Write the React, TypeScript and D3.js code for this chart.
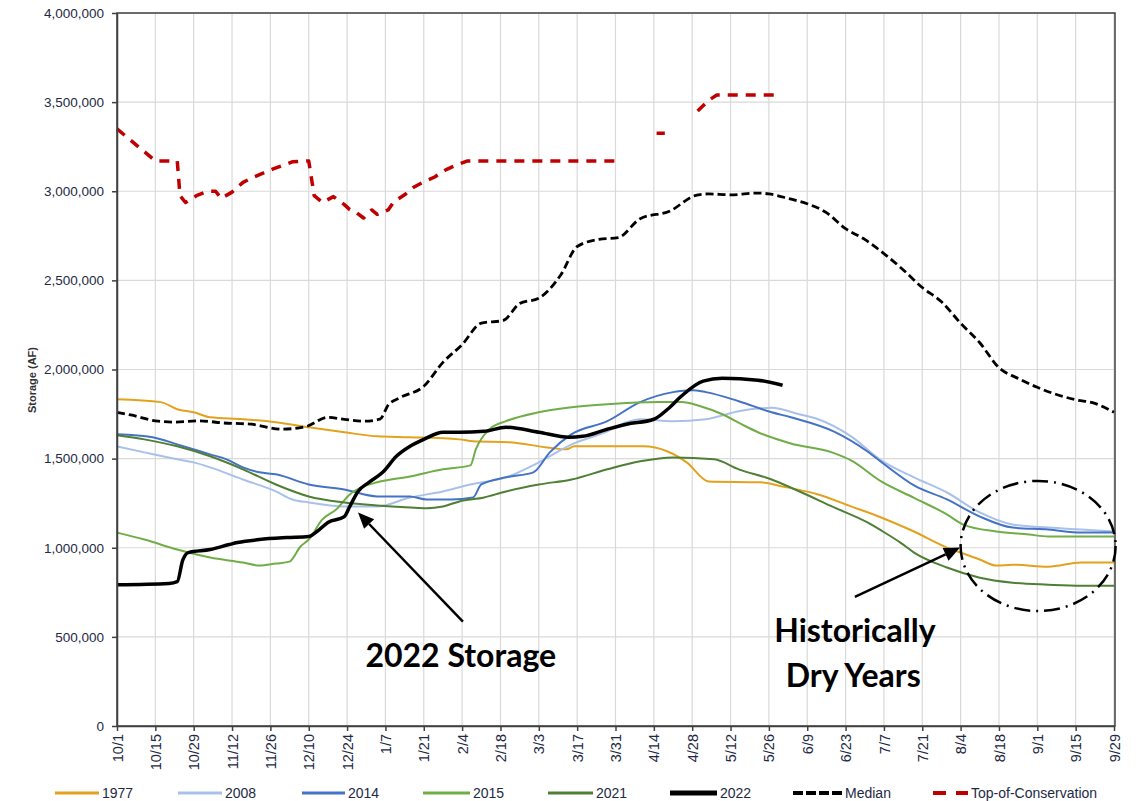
import React, { useEffect, useRef } from 'react';
import * as d3 from 'd3';

// x = days since 10/1 (leap-year water year, ticks every 14 days), y = storage in AF
const tickLabels = ['10/1', '10/15', '10/29', '11/12', '11/26', '12/10', '12/24', '1/7', '1/21', '2/4', '2/18', '3/3', '3/17', '3/31',
  '4/14', '4/28', '5/12', '5/26', '6/9', '6/23', '7/7', '7/21', '8/4', '8/18', '9/1', '9/15', '9/29'];
const yTicks = [0, 500000, 1000000, 1500000, 2000000, 2500000, 3000000, 3500000, 4000000];

const s1977 = [[0, 1833000], [16, 1817000], [22, 1777000], [28, 1760000], [34, 1732000], [46, 1721000], [58, 1704000], [70, 1676000],
  [83, 1648000], [95, 1625000], [107, 1620000], [125, 1608000], [130, 1597000], [143, 1592000], [157, 1563000], [164, 1552000],
  [167, 1569000], [192, 1569000], [201, 1540000], [208, 1479000], [216, 1372000], [235, 1367000], [243, 1344000], [256, 1299000],
  [268, 1232000], [279, 1170000], [291, 1091000], [303, 1001000], [308, 973000], [315, 934000], [321, 900000], [327, 905000],
  [340, 894000], [352, 917000], [364, 917000]];

const s2008 = [[0, 1569000], [10, 1535000], [22, 1496000], [28, 1479000], [34, 1451000], [46, 1383000], [58, 1316000], [64, 1271000],
  [70, 1254000], [83, 1232000], [95, 1232000], [107, 1282000], [119, 1316000], [129, 1355000], [142, 1395000], [154, 1479000],
  [166, 1580000], [179, 1653000], [186, 1704000], [191, 1721000], [203, 1710000], [215, 1721000], [227, 1766000], [239, 1785000],
  [249, 1749000], [256, 1721000], [268, 1625000], [279, 1490000], [291, 1395000], [303, 1310000], [315, 1198000], [327, 1130000],
  [340, 1113000], [352, 1102000], [364, 1091000]];

const s2014 = [[0, 1637000], [13, 1620000], [22, 1580000], [34, 1524000], [40, 1496000], [46, 1451000], [52, 1423000], [58, 1412000],
  [70, 1355000], [83, 1327000], [95, 1288000], [107, 1288000], [113, 1271000], [122, 1271000], [130, 1282000], [133, 1355000],
  [142, 1395000], [152, 1423000], [158, 1535000], [166, 1637000], [179, 1710000], [191, 1817000], [203, 1873000], [210, 1884000],
  [215, 1873000], [227, 1822000], [239, 1760000], [246, 1732000], [262, 1650000], [274, 1540000], [280, 1470000], [291, 1350000],
  [303, 1271000], [315, 1175000], [327, 1113000], [340, 1102000], [352, 1085000], [364, 1085000]];

const s2015 = [[0, 1085000], [10, 1046000], [22, 990000], [34, 945000], [46, 917000], [52, 900000], [58, 911000], [63, 922000],
  [67, 1007000], [70, 1046000], [75, 1159000], [80, 1215000], [85, 1299000], [90, 1344000], [95, 1367000], [107, 1400000],
  [119, 1440000], [129, 1462000], [131, 1552000], [136, 1665000], [142, 1710000], [154, 1760000], [166, 1788000], [179, 1805000],
  [198, 1817000], [206, 1817000], [213, 1794000], [221, 1749000], [228, 1693000], [234, 1648000], [246, 1585000], [261, 1535000],
  [268, 1490000], [279, 1372000], [291, 1280000], [303, 1187000], [309, 1130000], [321, 1091000], [333, 1074000], [340, 1063000],
  [364, 1063000]];

const s2021 = [[0, 1631000], [10, 1608000], [22, 1569000], [34, 1513000], [46, 1440000], [58, 1355000], [70, 1288000], [83, 1254000],
  [95, 1237000], [107, 1226000], [113, 1222000], [119, 1232000], [125, 1260000], [134, 1282000], [142, 1316000], [154, 1355000],
  [166, 1383000], [179, 1440000], [191, 1485000], [203, 1507000], [218, 1496000], [227, 1440000], [239, 1383000], [250, 1310000],
  [261, 1232000], [274, 1142000], [279, 1097000], [286, 1029000], [291, 973000], [303, 889000], [315, 832000], [327, 804000],
  [340, 793000], [352, 787000], [364, 787000]];

const s2022 = [[0, 793000], [19, 800000], [22, 810000], [24, 930000], [26, 973000], [34, 990000], [41, 1018000], [44, 1029000],
  [52, 1046000], [62, 1057000], [70, 1063000], [73, 1091000], [77, 1142000], [83, 1175000], [85, 1232000], [88, 1316000],
  [92, 1367000], [97, 1423000], [102, 1513000], [107, 1569000], [112, 1608000], [119, 1648000], [125, 1648000], [134, 1653000],
  [142, 1676000], [154, 1648000], [165, 1620000], [170, 1625000], [179, 1665000], [186, 1693000], [196, 1721000], [201, 1777000],
  [206, 1850000], [214, 1935000], [221, 1951000], [234, 1940000], [243, 1912000]];

const median = [[0, 1760000], [5, 1745000], [15, 1710000], [21, 1705000], [30, 1712000], [39, 1700000], [49, 1693000], [60, 1665000],
  [69, 1680000], [77, 1732000], [83, 1720000], [90, 1710000], [96, 1721000], [99, 1800000], [103, 1840000], [112, 1906000],
  [119, 2040000], [126, 2140000], [133, 2260000], [141, 2275000], [147, 2370000], [154, 2400000], [162, 2530000], [168, 2690000],
  [176, 2730000], [183, 2740000], [191, 2846000], [202, 2890000], [211, 2975000], [216, 2985000], [224, 2980000], [234, 2990000],
  [238, 2985000], [245, 2960000], [252, 2930000], [259, 2880000], [266, 2790000], [273, 2730000], [280, 2650000], [287, 2560000],
  [294, 2460000], [301, 2380000], [308, 2260000], [315, 2150000], [322, 2010000], [329, 1950000], [336, 1900000], [343, 1860000],
  [350, 1830000], [357, 1810000], [364, 1760000]];

// nulls = gaps in the top-of-conservation record
const topOfConservation = [[0, 3350000], [14, 3170000], [22, 3170000], [23, 2975000], [25, 2937000], [29, 2975000], [33, 3000000],
  [36, 3000000], [38, 2960000], [42, 2995000], [46, 3050000], [50, 3080000], [57, 3125000], [64, 3165000], [70, 3170000],
  [72, 2975000], [75, 2937000], [79, 2970000], [83, 2925000], [85, 2897000], [87, 2885000], [90, 2850000], [93, 2895000],
  [95, 2870000], [99, 2895000], [101, 2940000], [105, 2980000], [108, 3020000], [112, 3053000], [116, 3080000], [120, 3120000],
  [124, 3148000], [128, 3170000], [182, 3170000], [183, null], [196, null], [197, 3325000], [200, 3325000], [201, null], [211, null],
  [212, 3450000], [216, 3510000], [219, 3540000], [240, 3540000]];

const series = [
  { name: '1977', data: s1977, color: '#E3A21E', width: 2, dash: null, legendWidth: 3 },
  { name: '2008', data: s2008, color: '#A9C1EA', width: 2, dash: null, legendWidth: 3 },
  { name: '2014', data: s2014, color: '#4472C4', width: 2, dash: null, legendWidth: 3 },
  { name: '2015', data: s2015, color: '#70AD47', width: 2, dash: null, legendWidth: 3 },
  { name: '2021', data: s2021, color: '#4F7F35', width: 2, dash: null, legendWidth: 3 },
  { name: '2022', data: s2022, color: '#000000', width: 3.5, dash: null, legendWidth: 5 },
  { name: 'Median', data: median, color: '#000000', width: 2.8, dash: '8,4', legendWidth: 4 },
  { name: 'Top-of-Conservation', data: topOfConservation, color: '#C00000', width: 3.5, dash: '10,8', legendWidth: 4 },
];

const legendPos = [[55, 99], [178, 222], [302, 345], [423, 470], [548, 593], [670, 717], [793, 842], [933, 968]];

export default function App() {
  const ref = useRef(null);

  useEffect(() => {
    const svg = d3.select(ref.current);
    svg.selectAll('*').remove();

    const left = 117, right = 1115, top = 13, bottom = 726;
    const x = d3.scaleLinear().domain([0, 364]).range([left, 1114]);
    const y = d3.scaleLinear().domain([0, 4000000]).range([bottom, top]);
    const tickDays = tickLabels.map((_, i) => i * 14);
    const font = 'Liberation Sans, Arial, sans-serif';

    // grid
    const grid = svg.append('g').attr('stroke', '#d9d9d9').attr('stroke-width', 1.2);
    grid.selectAll('line.v').data(tickDays).join('line')
      .attr('x1', d => x(d)).attr('x2', d => x(d)).attr('y1', top).attr('y2', bottom);
    grid.selectAll('line.h').data(yTicks).join('line')
      .attr('x1', left).attr('x2', right).attr('y1', d => y(d)).attr('y2', d => y(d));

    // series
    const line = d3.line()
      .defined(d => d[1] != null)
      .x(d => x(d[0]))
      .y(d => y(d[1]));

    series.forEach(s => {
      const curved = s.name === 'Top-of-Conservation' ? line.curve(d3.curveLinear) : line.curve(d3.curveMonotoneX);
      svg.append('path')
        .attr('d', curved(s.data))
        .attr('fill', 'none')
        .attr('stroke', s.color)
        .attr('stroke-width', s.width)
        .attr('stroke-linejoin', 'round')
        .attr('stroke-dasharray', s.dash);
    });

    // frame
    svg.append('rect').attr('x', left).attr('y', top).attr('width', right - left).attr('height', bottom - top)
      .attr('fill', 'none').attr('stroke', '#404040').attr('stroke-width', 1.5);

    // y axis
    const yAxis = svg.append('g').attr('transform', `translate(${left},0)`)
      .call(d3.axisLeft(y).tickValues(yTicks).tickSize(5).tickSizeOuter(0).tickPadding(8).tickFormat(d3.format(',')));
    yAxis.select('.domain').attr('stroke', '#404040').attr('stroke-width', 1.5);
    yAxis.selectAll('line').attr('stroke', '#404040').attr('stroke-width', 1.5);
    yAxis.selectAll('text').attr('font-size', 13.5).attr('font-family', font).attr('fill', '#1e2a44');

    // x axis
    const xAxis = svg.append('g').attr('transform', `translate(0,${bottom})`)
      .call(d3.axisBottom(x).tickValues(tickDays).tickSize(5).tickSizeOuter(0).tickFormat((d, i) => tickLabels[i]));
    xAxis.select('.domain').attr('stroke', '#404040').attr('stroke-width', 1.5);
    xAxis.selectAll('line').attr('stroke', '#404040').attr('stroke-width', 1.5);
    xAxis.selectAll('text')
      .attr('transform', 'rotate(-90)')
      .attr('text-anchor', 'end')
      .attr('x', -8).attr('y', 0).attr('dy', '0.35em')
      .attr('font-size', 14.5).attr('font-family', font).attr('fill', '#1e2a44');

    // y title
    svg.append('text').attr('transform', 'translate(36,380) rotate(-90)')
      .attr('text-anchor', 'middle').attr('font-size', 11).attr('font-weight', 'bold')
      .attr('font-family', font).attr('fill', '#333').text('Storage (AF)');

    // legend
    const legend = svg.append('g');
    series.forEach((s, i) => {
      const [x1, x2] = legendPos[i];
      legend.append('line').attr('x1', x1).attr('x2', x2).attr('y1', 793).attr('y2', 793)
        .attr('stroke', s.color).attr('stroke-width', s.legendWidth)
        .attr('stroke-dasharray', s.name === 'Median' ? '10,3' : s.name === 'Top-of-Conservation' ? '13,10' : null);
      legend.append('text').attr('x', x2 + 3).attr('y', 798).attr('font-size', 14)
        .attr('font-family', font).attr('fill', '#1e2a44').text(s.name);
    });

    // annotations
    const arrow = (d1, v1, d2, v2) => {
      const x1 = x(d1), y1 = y(v1), x2 = x(d2), y2 = y(v2);
      const a = Math.atan2(y2 - y1, x2 - x1), hl = 16, hw = 7;
      const bx = x2 - hl * Math.cos(a), by = y2 - hl * Math.sin(a);
      svg.append('line').attr('x1', x1).attr('y1', y1).attr('x2', bx).attr('y2', by)
        .attr('stroke', '#000').attr('stroke-width', 2.5);
      svg.append('path')
        .attr('d', `M${x2},${y2}L${bx - hw * Math.sin(a)},${by + hw * Math.cos(a)}L${bx + hw * Math.sin(a)},${by - hw * Math.cos(a)}Z`)
        .attr('fill', '#000');
    };
    const label = (d, v, t) => svg.append('text').attr('x', x(d)).attr('y', y(v)).attr('text-anchor', 'middle')
      .attr('font-size', 32).attr('font-weight', 'bold').attr('font-family', 'Lato, sans-serif').attr('fill', '#000').text(t);

    arrow(126.3, 585000, 88, 1198000);
    label(125.5, 332000, '2022 Storage');
    arrow(269.4, 725000, 307.8, 1001000);
    label(269.4, 472000, 'Historically');
    label(268.8, 219000, 'Dry Years');

    svg.append('ellipse')
      .attr('cx', x(336.3)).attr('cy', y(1010000))
      .attr('rx', x(28.3) - x(0)).attr('ry', y(0) - y(365000))
      .attr('fill', 'none').attr('stroke', '#000').attr('stroke-width', 2.5)
      .attr('stroke-dasharray', '16,6,2,6');
  }, []);

  return (
    <svg ref={ref} width={1140} height={801} style={{ position: 'absolute', left: 0, top: 0, background: '#fff' }} />
  );
}
